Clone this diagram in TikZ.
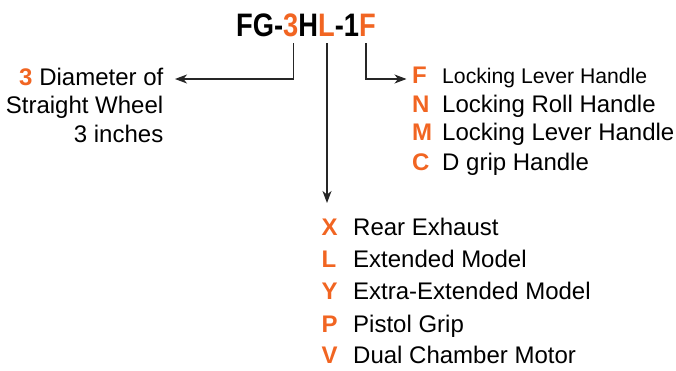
\documentclass[tikz,border=0pt]{standalone}
\usepackage{fontspec}
\setmainfont{Liberation Sans}
\usepackage{graphicx}
\usetikzlibrary{arrows.meta}
\definecolor{code}{RGB}{241,101,34}
\tikzset{
  conn/.style={draw=black!85, line width=1.1pt},
  tip/.style={-{Stealth[length=12pt,width=9pt,inset=3.5pt]}},
  txt/.style={inner sep=0pt, font=\fontsize{24}{28}\selectfont, text=black},
  lesstxt/.style={inner sep=0pt, font=\fontsize{21.2}{25}\selectfont, text=black},
  key/.style={inner sep=0pt, font=\fontsize{24}{28}\selectfont\bfseries, text=code},
}
\begin{document}
\begin{tikzpicture}[x=1pt,y=-1pt]
\useasboundingbox (0,0) rectangle (676,370);
% title
\node[inner sep=0pt, anchor=base west] (title) at (236,36)
  {\scalebox{0.84}[1]{\fontsize{32.5}{36}\selectfont\bfseries FG-\textcolor{code}{3}H\textcolor{code}{L}-1\textcolor{code}{F}}};
\coordinate (s3) at (293.5,43);
\coordinate (sL) at (327,43);
\coordinate (sF) at (366,43);
\coordinate (b3) at (293.5,79);
\coordinate (bF) at (366,79);
\coordinate (t3) at (175,79);
\coordinate (tF) at (406.5,79);
\coordinate (tL) at (327,203);
% left block
\node[txt, anchor=base east] (d1) at (163.5,85) {\textcolor{code}{\bfseries 3} Diameter of};
\node[txt, anchor=base east] (d2) at (163.5,113.5) {Straight Wheel};
\node[txt, anchor=base east] (d3) at (163.5,142) {3 inches};
% right list
\node[key, anchor=base west] (kF) at (412,83) {F};
\node[lesstxt, anchor=base west] (vF) at (442,83) {Locking Lever Handle};
\node[key, anchor=base west] (kN) at (412,112) {N};
\node[txt, anchor=base west] (vN) at (442,112) {Locking Roll Handle};
\node[key, anchor=base west] (kM) at (412,140.5) {M};
\node[txt, anchor=base west] (vM) at (442,140.5) {Locking Lever Handle};
\node[key, anchor=base west] (kC) at (412,170) {C};
\node[txt, anchor=base west] (vC) at (442,170) {D grip Handle};
% bottom list
\node[key, anchor=base west] (kX) at (321.5,235) {X};
\node[txt, anchor=base west] (vX) at (353,235) {Rear Exhaust};
\node[key, anchor=base west] (kL) at (321.5,267) {L};
\node[txt, anchor=base west] (vL) at (353,267) {Extended Model};
\node[key, anchor=base west] (kY) at (321.5,299.5) {Y};
\node[txt, anchor=base west] (vY) at (353,299.5) {Extra-Extended Model};
\node[key, anchor=base west] (kP) at (321.5,332) {P};
\node[txt, anchor=base west] (vP) at (353,332) {Pistol Grip};
\node[key, anchor=base west] (kV) at (321.5,363.5) {V};
\node[txt, anchor=base west] (vV) at (353,363.5) {Dual Chamber Motor};
% connectors
\draw[conn, tip] (s3) -- (b3) -- (t3);
\draw[conn, tip] (sL) -- (tL);
\draw[conn, tip] (sF) -- (bF) -- (tF);
\end{tikzpicture}
\end{document}
